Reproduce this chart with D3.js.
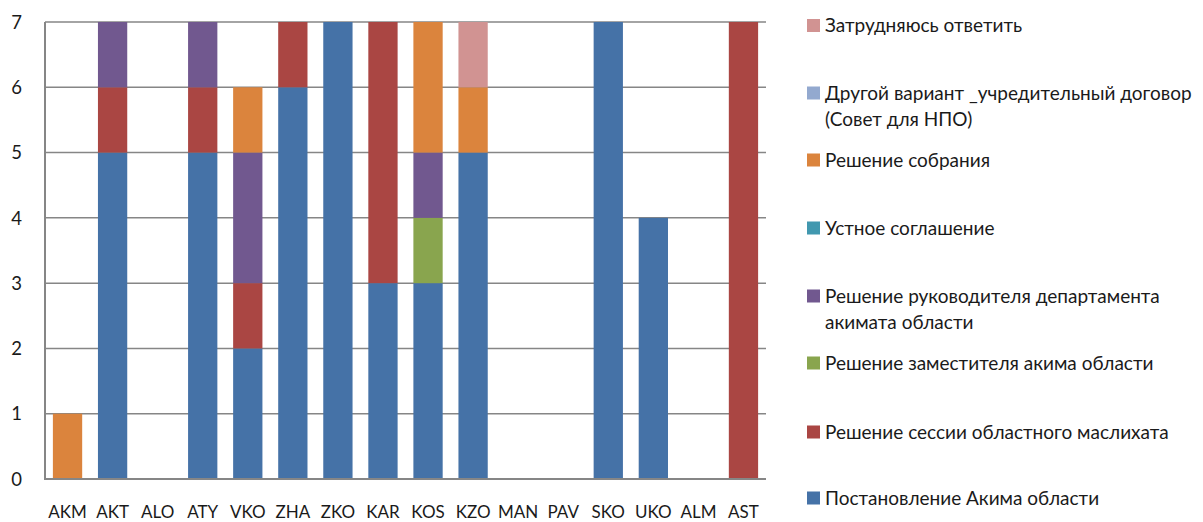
<!DOCTYPE html>
<html><head><meta charset="utf-8">
<script src="https://cdn.jsdelivr.net/npm/d3@7"></script>
<style>body{margin:0;background:#fff}svg{display:block;font-family:Lato,"Open Sans",sans-serif}</style>
</head><body><svg id="c" width="1203" height="522"></svg>
<script>
const categories = ["AKM","AKT","ALO","ATY","VKO","ZHA","ZKO","KAR","KOS","KZO","MAN","PAV","SKO","UKO","ALM","AST"];
// series listed bottom-to-top of stack
const seriesNames = [
  "Постановление Акима области",
  "Решение сессии областного маслихата",
  "Решение заместителя акима области",
  "Решение руководителя департамента акимата области",
  "Устное соглашение",
  "Решение собрания",
  "Другой вариант _учредительный договор (Совет для НПО)",
  "Затрудняюсь ответить"
];
const colors = ["#4572A7","#AA4643","#89A54E","#71588F","#4198AF","#DB843D","#93A9CF","#D19392"];
const postanovlenie = [0,5,0,5,2,6,7,3,3,5,0,0,7,4,0,0];
const sessiya       = [0,1,0,1,1,1,0,4,0,0,0,0,0,0,0,7];
const zamestitel    = [0,0,0,0,0,0,0,0,1,0,0,0,0,0,0,0];
const rukovoditel   = [0,1,0,1,2,0,0,0,1,0,0,0,0,0,0,0];
const ustnoe        = [0,0,0,0,0,0,0,0,0,0,0,0,0,0,0,0];
const sobranie      = [1,0,0,0,1,0,0,0,2,1,0,0,0,0,0,0];
const drugoi        = [0,0,0,0,0,0,0,0,0,0,0,0,0,0,0,0];
const zatrudnyayus  = [0,0,0,0,0,0,0,0,0,1,0,0,0,0,0,0];
const seriesValues = [postanovlenie,sessiya,zamestitel,rukovoditel,ustnoe,sobranie,drugoi,zatrudnyayus];
const yTicks = [0,1,2,3,4,5,6,7];
// legend labels as displayed (top to bottom), with line breaks
const legendLines = [
  ["Затрудняюсь ответить"],
  ["Другой вариант _учредительный договор","(Совет для НПО)"],
  ["Решение собрания"],
  ["Устное соглашение"],
  ["Решение руководителя департамента","акимата области"],
  ["Решение заместителя акима области"],
  ["Решение сессии областного маслихата"],
  ["Постановление Акима области"]
];
const legendY = [25.5,93,160,228,296,363,432,498];

const svg = d3.select("#c");
const pLeft = 45, pRight = 766, pTop = 22, pBottom = 479;
const x = d3.scaleBand().domain(categories).range([pLeft,pRight]).paddingInner(0.35).paddingOuter(0.175);
const y = d3.scaleLinear().domain([0,7]).range([pBottom,pTop]);

const table = categories.map((c,i)=>{const o={cat:c}; seriesNames.forEach((s,j)=>o[s]=seriesValues[j][i]); return o;});
const stacked = d3.stack().keys(seriesNames)(table);

// gridlines
svg.append("g").selectAll("line").data(yTicks.filter(d=>d>0)).join("line")
  .attr("x1",pLeft).attr("x2",pRight).attr("y1",d=>y(d)).attr("y2",d=>y(d))
  .attr("stroke","#868686").attr("stroke-width",1.5);

// bars
svg.append("g").selectAll("g").data(stacked).join("g")
  .attr("fill",(d,i)=>colors[i])
  .selectAll("rect").data(d=>d.filter(p=>p[1]-p[0]>0)).join("rect")
  .attr("x",d=>x(d.data.cat)).attr("width",x.bandwidth())
  .attr("y",d=>y(d[1])).attr("height",d=>y(d[0])-y(d[1]));

// axes lines
svg.append("line").attr("x1",pLeft).attr("x2",pLeft).attr("y1",pTop).attr("y2",pBottom)
  .attr("stroke","#868686").attr("stroke-width",2);
svg.append("line").attr("x1",pLeft-1).attr("x2",pRight).attr("y1",pBottom).attr("y2",pBottom)
  .attr("stroke","#868686").attr("stroke-width",2);

// y labels
svg.append("g").selectAll("text").data(yTicks).join("text")
  .attr("x",22).attr("y",d=>y(d)).attr("dy","0.36em").attr("text-anchor","end")
  .attr("font-size",18.5).attr("fill","#1a1a1a").text(d=>d);

// x labels
svg.append("g").selectAll("text").data(categories).join("text")
  .attr("x",d=>x(d)+x.bandwidth()/2).attr("y",518).attr("text-anchor","middle")
  .attr("font-size",17).attr("fill","#1a1a1a").text(d=>d);

// legend
const lg = svg.append("g").selectAll("g").data(legendLines).join("g")
  .attr("transform",(d,i)=>`translate(807,${legendY[i]})`);
lg.append("rect").attr("x",0).attr("y",-6.5).attr("width",13).attr("height",13)
  .attr("fill",(d,i)=>colors[colors.length-1-i]);
lg.each(function(lines){
  const g=d3.select(this);
  lines.forEach((t,k)=>g.append("text").attr("x",18).attr("y",k*26).attr("dy","0.36em")
    .attr("font-size",19).attr("fill","#1a1a1a").text(t));
});
</script></body></html>
